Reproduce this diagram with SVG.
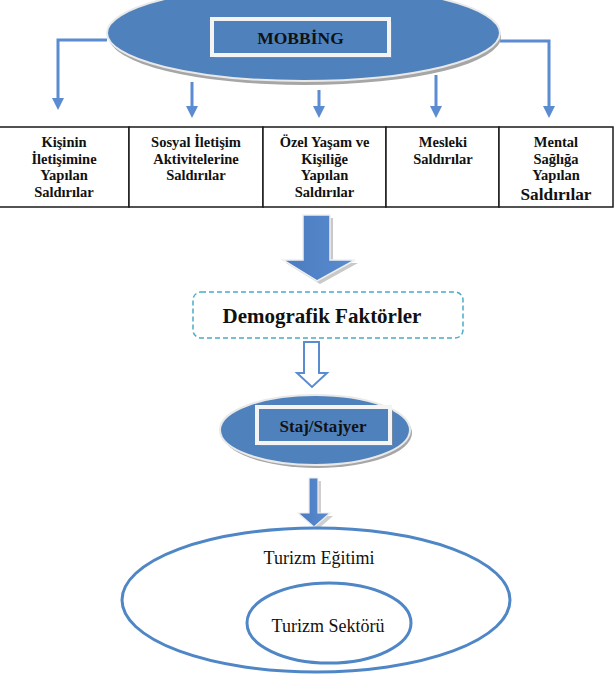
<svg xmlns="http://www.w3.org/2000/svg" width="616" height="700" viewBox="0 0 616 700" font-family="Liberation Serif, Times New Roman, serif">
<style>
.blue{fill:#4f81bd}
.shadow{fill:#a6a6a6}
.rim{fill:none;stroke:#e9e9e9;stroke-width:2}
.box{fill:#4f81bd;stroke:#f4f4f4;stroke-width:4}
.boxsh{fill:#8c8c8c;opacity:0.6}
.conn{fill:none;stroke:#5b8bd0;stroke-width:3}
.cell{fill:#ffffff;stroke:#1a1a1a;stroke-width:1.5}
.t{font-family:Liberation Serif, Times New Roman, serif;font-weight:bold;font-size:14.5px;fill:#111;text-anchor:middle}
.big{font-family:Liberation Serif, Times New Roman, serif;font-size:18px;fill:#111;text-anchor:middle}
</style>
<defs>
<marker id="ah" markerWidth="4" markerHeight="4" refX="2" refY="2" orient="auto" markerUnits="strokeWidth">
<path d="M0,0 L4,2 L0,4 Z" fill="#5b8bd0"/>
</marker>
<linearGradient id="ag" x1="0" y1="0" x2="1" y2="0">
<stop offset="0" stop-color="#4a7bc0"/>
<stop offset="1" stop-color="#5a8cd0"/>
</linearGradient>
</defs>
<rect width="616" height="700" fill="#ffffff"/>

<g id="connectors">
<path class="conn" d="M107,40 H58 V104" marker-end="url(#ah)"/>
<path class="conn" d="M192,82 V112" marker-end="url(#ah)"/>
<path class="conn" d="M319,90 V112" marker-end="url(#ah)"/>
<path class="conn" d="M436,75 V112" marker-end="url(#ah)"/>
<path class="conn" d="M500,41 H549 V112" marker-end="url(#ah)"/>
<g id="arrow-big">
<polygon points="306,218 333,218 333,263 358,263 320,284 286,263 306,263" fill="#c9c9c9"/>
<polygon points="303,215 330,215 330,260 355,260 317,281 283,260 303,260" fill="url(#ag)" stroke="#f0f0f0" stroke-width="1.5"/>
</g>
<g id="arrow-hollow">
<polygon points="304,342 319,342 319,373 327,373 312,387 297,373 304,373" fill="#ffffff" stroke="#5b8bd0" stroke-width="2"/>
</g>
<g id="arrow-small">
<polygon points="312,481 321,481 321,516 333,516 317,530 301,516 312,516" fill="#cfcfcf"/>
<polygon points="309,478 318,478 318,513 330,513 314,527 298,513 309,513" fill="url(#ag)" stroke="#eeeeee" stroke-width="1.2"/>
</g>
</g>

<g id="mobbing">
<ellipse class="shadow" cx="305" cy="37" rx="196" ry="48"/>
<ellipse class="blue" cx="303.5" cy="33" rx="196.5" ry="48"/>
<ellipse class="rim" cx="303.5" cy="33" rx="196.5" ry="48"/>
<rect class="boxsh" x="215" y="22" width="177" height="36"/>
<rect class="box" x="212" y="19" width="177" height="36"/>
<text x="300.5" y="44" font-family="Liberation Serif, Times New Roman, serif" font-weight="bold" font-size="17.5" fill="#111" text-anchor="middle">MOBBİNG</text>
</g>

<g id="cell1">
<rect class="cell" x="-2" y="127" width="131" height="80"/>
<text class="t" x="64" y="147">Kişinin</text>
<text class="t" x="64" y="163.5">İletişimine</text>
<text class="t" x="64" y="180">Yapılan</text>
<text class="t" x="64" y="197">Saldırılar</text>
</g>
<g id="cell2">
<rect class="cell" x="129" y="127" width="134" height="80"/>
<text class="t" x="196" y="147">Sosyal İletişim</text>
<text class="t" x="196" y="163.5">Aktivitelerine</text>
<text class="t" x="196" y="180">Saldırılar</text>
</g>
<g id="cell3">
<rect class="cell" x="263" y="127" width="123" height="80"/>
<text class="t" x="324.5" y="147">Özel Yaşam ve</text>
<text class="t" x="324.5" y="163.5">Kişiliğe</text>
<text class="t" x="324.5" y="180">Yapılan</text>
<text class="t" x="324.5" y="197">Saldırılar</text>
</g>
<g id="cell4">
<rect class="cell" x="386" y="127" width="113" height="80"/>
<text class="t" x="443" y="147">Mesleki</text>
<text class="t" x="443" y="163.5">Saldırılar</text>
</g>
<g id="cell5">
<rect class="cell" x="499" y="127" width="114" height="80"/>
<text class="t" x="556" y="147">Mental</text>
<text class="t" x="556" y="163.5">Sağlığa</text>
<text class="t" x="556" y="180">Yapılan</text>
<text class="t" x="556" y="200" style="font-size:17.3px">Saldırılar</text>
</g>

<g id="demografik">
<rect x="193" y="292" width="270" height="46" rx="8" fill="none" stroke="#4bacc6" stroke-width="1.5" stroke-dasharray="5,3"/>
<text x="322" y="323" font-family="Liberation Serif, Times New Roman, serif" font-weight="bold" font-size="21" fill="#111" text-anchor="middle">Demografik Faktörler</text>
</g>

<g id="staj">
<ellipse class="shadow" cx="317" cy="433" rx="95" ry="35"/>
<ellipse class="blue" cx="315" cy="430" rx="95" ry="35"/>
<ellipse class="rim" cx="315" cy="430" rx="95" ry="35"/>
<rect class="boxsh" x="260" y="410" width="133" height="36"/>
<rect class="box" x="257" y="407" width="133" height="36"/>
<text x="323" y="432" font-family="Liberation Serif, Times New Roman, serif" font-weight="bold" font-size="17" fill="#111" text-anchor="middle">Staj/Stajyer</text>
</g>

<g id="turizm-egitimi">
<ellipse cx="316" cy="600" rx="194" ry="72" fill="none" stroke="#4f86c6" stroke-width="3"/>
<text class="big" x="319" y="564">Turizm Eğitimi</text>
</g>
<g id="turizm-sektoru">
<ellipse cx="329" cy="623" rx="82" ry="40" fill="none" stroke="#4f86c6" stroke-width="3"/>
<text class="big" x="328" y="632">Turizm Sektörü</text>
</g>
</svg>
